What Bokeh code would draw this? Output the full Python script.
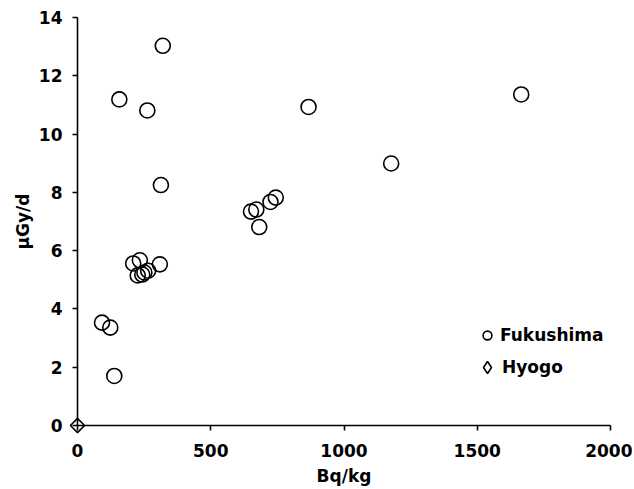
import math
from bokeh.plotting import figure
from bokeh.models import Legend, LegendItem, Range1d, FixedTicker
from bokeh.embed import file_html
from bokeh.resources import INLINE

# Data
fuku_bq = [320, 157, 262, 313, 867, 1177, 1665,
           651, 671, 724, 744, 682,
           209, 234, 226, 243, 251, 265, 309,
           92, 123, 138]
fuku_dose = [13.03, 11.19, 10.81, 8.25, 10.93, 8.99, 11.36,
             7.34, 7.41, 7.67, 7.82, 6.81,
             5.56, 5.67, 5.15, 5.18, 5.25, 5.31, 5.53,
             3.53, 3.36, 1.70]
hyogo_bq = [0]
hyogo_dose = [0]

x_ticks = [0, 500, 1000, 1500, 2000]
y_ticks = [0, 2, 4, 6, 8, 10, 12, 14]
x_title = "Bq/kg"
y_title = "µGy/d"
series_names = ["Fukushima", "Hyogo"]

FONT = "DejaVu Sans"

p = figure(width=632, height=489, output_backend="svg", toolbar_location=None,
           x_range=Range1d(0, 2000), y_range=Range1d(0, 14),
           min_border_left=77, min_border_right=22, min_border_top=17,
           min_border_bottom=64)
p.grid.visible = False
p.outline_line_color = None
p.background_fill_color = "white"
p.border_fill_color = "white"

p.xaxis.ticker = FixedTicker(ticks=x_ticks)
p.yaxis.ticker = FixedTicker(ticks=y_ticks)
p.xaxis.axis_label = x_title
p.yaxis.axis_label = y_title

for ax in (p.xaxis[0], p.yaxis[0]):
    ax.axis_line_width = 1.6
    ax.axis_line_color = "black"
    ax.major_tick_line_width = 1.6
    ax.major_tick_line_color = "black"
    ax.major_tick_in = 0
    ax.major_tick_out = 5
    ax.minor_tick_line_color = None
    ax.major_label_text_font = FONT
    ax.major_label_text_font_style = "bold"
    ax.major_label_text_font_size = "17px"
    ax.major_label_text_color = "black"
    ax.axis_label_text_font = FONT
    ax.axis_label_text_font_style = "bold"
    ax.axis_label_text_font_size = "17px"
    ax.axis_label_text_color = "black"

p.yaxis.major_label_standoff = 10
p.yaxis.axis_label_standoff = 3
p.xaxis.major_label_standoff = 13
p.xaxis.axis_label_standoff = 6

r1 = p.scatter(fuku_bq, fuku_dose, marker="circle", size=15,
               fill_color=None, line_color="black", line_width=1.6)
r2 = p.scatter(hyogo_bq, hyogo_dose, marker="square", angle=math.pi / 4,
               size=10, fill_color=None, line_color="black", line_width=1.6,
               level="overlay")
# hidden twin used only for the legend key (legend keys ignore the angle)
r2_key = p.scatter(hyogo_bq, hyogo_dose, marker="diamond", size=14,
                   fill_color=None, line_color="black", line_width=1.6,
                   visible=False)

common = dict(border_line_color=None, background_fill_alpha=0, padding=0,
              margin=0, spacing=0, label_text_font=FONT,
              label_text_font_style="bold", label_text_font_size="17px",
              label_text_color="black")

legend1 = Legend(items=[LegendItem(label=series_names[0], renderers=[r1])],
                 location=(399, 76), glyph_width=22, glyph_height=22,
                 label_height=28, label_standoff=2, **common)
legend2 = Legend(items=[LegendItem(label=series_names[1], renderers=[r2_key])],
                 location=(395, 43), glyph_width=30, glyph_height=30,
                 label_height=30, label_standoff=0, **common)
p.add_layout(legend1)
p.add_layout(legend2)

open("out.html", "w").write(file_html(p, INLINE))
